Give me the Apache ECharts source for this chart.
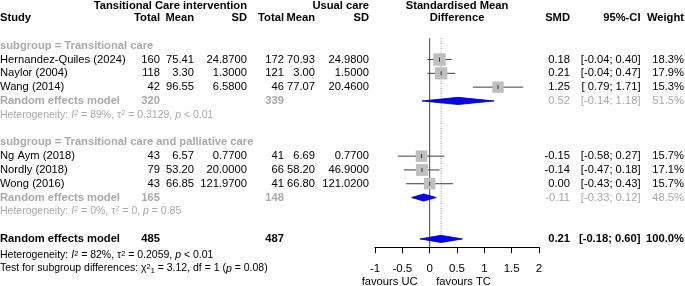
<!DOCTYPE html>
<html>
<head>
<meta charset="utf-8">
<script src="https://cdn.jsdelivr.net/npm/echarts@6/dist/echarts.min.js"></script>
<style>
  html, body { margin: 0; padding: 0; background: #fff; }
  #chart { width: 685px; height: 286px; }
</style>
</head>
<body>
<div id="chart"></div>
<script>
// study level data
const studies = ['Hernandez-Quiles (2024)', 'Naylor (2004)', 'Wang (2014)', 'Ng Aym (2018)', 'Nordly (2018)', 'Wong (2016)'];
const studyRows = [4, 5, 6, 11, 12, 13];
const tcTotal = [160, 118, 42, 43, 79, 43];
const tcMean = ['75.41', '3.30', '96.55', '6.57', '53.20', '66.85'];
const tcSD = ['24.8700', '1.3000', '6.5800', '0.7700', '20.0000', '121.9700'];
const ucTotal = [172, 121, 46, 41, 66, 41];
const ucMean = ['70.93', '3.00', '77.07', '6.69', '58.20', '66.80'];
const ucSD = ['24.9800', '1.5000', '20.4600', '0.7700', '46.9000', '121.0200'];
const smd = [0.18, 0.21, 1.25, -0.15, -0.14, 0.00];
const ciLow = [-0.04, -0.04, 0.79, -0.58, -0.47, -0.43];
const ciHigh = [0.40, 0.47, 1.71, 0.27, 0.18, 0.43];
const weight = [18.3, 17.9, 15.3, 15.7, 17.1, 15.7];

// pooled estimates: subgroup 1, subgroup 2, overall
const subgroups = ['subgroup = Transitional care', 'subgroup = Transitional care and palliative care'];
const subgroupRows = [3, 10];
const pooledRows = [7, 14, 17];
const pooledTc = [320, 165, 485];
const pooledUc = [339, 148, 487];
const pooledSmd = [0.52, -0.11, 0.21];
const pooledLow = [-0.14, -0.33, -0.18];
const pooledHigh = [1.18, 0.12, 0.60];
const pooledWeight = [51.5, 48.5, 100.0];
const hetRows = [8, 15, 18.2];
const hetText = [
  'Heterogeneity: {it|I}{sup|2} = 89%, τ{sup|2} = 0.3129, {it|p} < 0.01',
  'Heterogeneity: {it|I}{sup|2} = 0%, τ{sup|2} = 0, {it|p} = 0.85',
  'Heterogeneity: {it|I}{sup|2} = 82%, τ{sup|2} = 0.2059, {it|p} < 0.01'
];
const testText = 'Test for subgroup differences: χ{sup|2}{sub|1} = 3.12, df = 1 ({it|p} = 0.08)';
const xTicks = [-1, -0.5, 0, 0.5, 1, 1.5, 2];

const FONT = 'Liberation Sans, Arial, sans-serif';
const GREY = '#a9a9a9';
const FS = 11.2;
const HET_FS = 10.5;

// column right edges (px)
const COL = { tcT: 160, tcM: 194, tcS: 247, ucT: 284, ucM: 315, ucS: 369, smd: 570, ci: 640.5, w: 684 };

function f2(v) { return v.toFixed(2); }
function ciStr(lo, hi) { return '[' + (lo >= 0 ? ' ' : '') + f2(lo) + '; ' + f2(hi) + ']'; }

function cell(x, text, opt) {
  return Object.assign({ x: x, text: String(text), align: 'right', bold: false, color: '#000', size: FS }, opt || {});
}

// build text table
const tableRows = [];
tableRows.push({ row: 0.1, cells: [
  cell(COL.tcS, 'Tansitional Care intervention', { bold: true }),
  cell(COL.ucS, 'Usual care', { bold: true }),
  cell(null, 'Standardised Mean', { bold: true, align: 'center', xv: 0.5 })
] });
tableRows.push({ row: 1, cells: [
  cell(0, 'Study', { bold: true, align: 'left' }),
  cell(COL.tcT, 'Total', { bold: true }), cell(COL.tcM, 'Mean', { bold: true }), cell(COL.tcS, 'SD', { bold: true }),
  cell(COL.ucT, 'Total', { bold: true }), cell(COL.ucM, 'Mean', { bold: true }), cell(COL.ucS, 'SD', { bold: true }),
  cell(null, 'Difference', { bold: true, align: 'center', xv: 0.5 }),
  cell(COL.smd, 'SMD', { bold: true }), cell(COL.ci, '95%-CI', { bold: true }), cell(COL.w, 'Weight', { bold: true })
] });
subgroups.forEach(function (s, i) {
  tableRows.push({ row: subgroupRows[i], cells: [cell(0, s, { bold: true, align: 'left', color: GREY })] });
});
studies.forEach(function (s, i) {
  tableRows.push({ row: studyRows[i], cells: [
    cell(0, s, { align: 'left' }),
    cell(COL.tcT, tcTotal[i]), cell(COL.tcM, tcMean[i]), cell(COL.tcS, tcSD[i]),
    cell(COL.ucT, ucTotal[i]), cell(COL.ucM, ucMean[i]), cell(COL.ucS, ucSD[i]),
    cell(COL.smd, f2(smd[i])), cell(COL.ci, ciStr(ciLow[i], ciHigh[i])), cell(COL.w, weight[i].toFixed(1) + '%')
  ] });
});
pooledRows.forEach(function (r, i) {
  const overall = i === 2;
  const c = overall ? '#000' : GREY;
  tableRows.push({ row: r, cells: [
    cell(0, 'Random effects model', { align: 'left', bold: true, color: c }),
    cell(COL.tcT, pooledTc[i], { bold: true, color: c }),
    cell(COL.ucT, pooledUc[i], { bold: true, color: c }),
    cell(COL.smd, f2(pooledSmd[i]), { bold: overall, color: c }),
    cell(COL.ci, ciStr(pooledLow[i], pooledHigh[i]), { bold: overall, color: c }),
    cell(COL.w, pooledWeight[i].toFixed(1) + '%', { bold: overall, color: c })
  ] });
});
hetRows.forEach(function (r, i) {
  tableRows.push({ row: r, cells: [cell(0, hetText[i], { align: 'left', color: i < 2 ? GREY : '#000', size: HET_FS, rich: true })] });
});
tableRows.push({ row: 19.15, cells: [cell(0, testText, { align: 'left', size: HET_FS, rich: true })] });
tableRows.push({ row: 20.1, cells: [
  cell(null, 'favours UC', { align: 'right', xv: -0.22 }),
  cell(null, 'favours TC', { align: 'left', xv: 0.12 })
] });

function richFor(c) {
  const base = { fontFamily: FONT, fontSize: c.size, fill: c.color };
  return {
    it: Object.assign({}, base, { fontStyle: 'italic' }),
    sup: Object.assign({}, base, { fontSize: c.size * 0.7, verticalAlign: 'top', padding: [0, 0, 4, 0] }),
    sub: Object.assign({}, base, { fontSize: c.size * 0.7, verticalAlign: 'bottom' })
  };
}

const chart = echarts.init(document.getElementById('chart'), null, { renderer: 'canvas' });

const option = {
  animation: false,
  backgroundColor: '#fff',
  grid: { left: 375, right: 146, top: 0.2, height: 247 },
  xAxis: {
    type: 'value', min: -1, max: 2, interval: 0.5, position: 'bottom',
    axisLine: { show: true, onZero: false, lineStyle: { color: '#000', width: 1 } },
    axisTick: { show: true, length: 6, lineStyle: { color: '#000' } },
    axisLabel: { margin: 16, color: '#000', fontFamily: FONT, fontSize: 11.5,
      formatter: function (v) { return xTicks.indexOf(v) >= 0 ? String(v) : ''; } },
    splitLine: { show: false }
  },
  yAxis: { type: 'value', min: -0.3, max: 17.6, inverse: true, show: false },
  series: [
    { // reference lines: no effect (solid) and overall estimate (dotted)
      type: 'custom',
      data: [[0, 2.45, 17.6, 0], [pooledSmd[2], 2.45, 17.0, 1]],
      renderItem: function (params, api) {
        const a = api.coord([api.value(0), api.value(1)]);
        const b = api.coord([api.value(0), api.value(2)]);
        const dotted = api.value(3) === 1;
        return { type: 'line', shape: { x1: a[0], y1: a[1], x2: b[0], y2: b[1] },
          style: { stroke: dotted ? '#8a8a8a' : '#444', lineWidth: 1, lineDash: dotted ? [1, 1.5] : null } };
      },
      z: 1
    },
    { // confidence intervals
      type: 'custom',
      data: studies.map(function (s, i) { return [ciLow[i], ciHigh[i], studyRows[i]]; }),
      renderItem: function (params, api) {
        const a = api.coord([api.value(0), api.value(2)]);
        const b = api.coord([api.value(1), api.value(2)]);
        return { type: 'line', shape: { x1: a[0], y1: a[1], x2: b[0], y2: b[1] },
          style: { stroke: '#3c3c3c', lineWidth: 1 } };
      },
      z: 2
    },
    { // weight squares
      type: 'scatter',
      symbol: 'rect',
      data: studies.map(function (s, i) { return [smd[i], studyRows[i], weight[i]]; }),
      symbolSize: function (v) { return 2.9 * Math.sqrt(v[2]); },
      itemStyle: { color: '#bfbfbf', opacity: 1 },
      z: 3
    },
    { // point estimate ticks
      type: 'custom',
      data: studies.map(function (s, i) { return [smd[i], studyRows[i]]; }),
      renderItem: function (params, api) {
        const p = api.coord([api.value(0), api.value(1)]);
        return { type: 'line', shape: { x1: p[0], y1: p[1] - 2, x2: p[0], y2: p[1] + 2 },
          style: { stroke: '#333', lineWidth: 1 } };
      },
      z: 4
    },
    { // pooled diamonds
      type: 'custom',
      data: pooledRows.map(function (r, i) { return [pooledSmd[i], pooledLow[i], pooledHigh[i], r]; }),
      renderItem: function (params, api) {
        const c = api.coord([api.value(0), api.value(3)]);
        const l = api.coord([api.value(1), api.value(3)]);
        const h = api.coord([api.value(2), api.value(3)]);
        const hh = 3.6;
        return { type: 'polygon',
          shape: { points: [[l[0], c[1]], [c[0], c[1] - hh], [h[0], c[1]], [c[0], c[1] + hh]] },
          style: { fill: '#0000ff', stroke: '#00008b', lineWidth: 0.8 } };
      },
      z: 5
    },
    { // text table
      type: 'custom',
      silent: true,
      data: tableRows.map(function (r) { return [0, r.row]; }),
      renderItem: function (params, api) {
        const tr = tableRows[params.dataIndex];
        const y = api.coord([0, api.value(1)])[1];
        return {
          type: 'group',
          children: tr.cells.map(function (c) {
            const x = c.xv !== undefined ? api.coord([c.xv, 0])[0] : c.x;
            const style = {
              text: c.text, fill: c.color, fontFamily: FONT, fontSize: c.size,
              fontWeight: c.bold ? 'bold' : 'normal', align: c.align, verticalAlign: 'middle'
            };
            if (c.rich) style.rich = richFor(c);
            return { type: 'text', x: x, y: y, style: style };
          })
        };
      },
      z: 10
    }
  ]
};

chart.setOption(option);
window.addEventListener('resize', function () { chart.resize(); });
</script>
</body>
</html>
